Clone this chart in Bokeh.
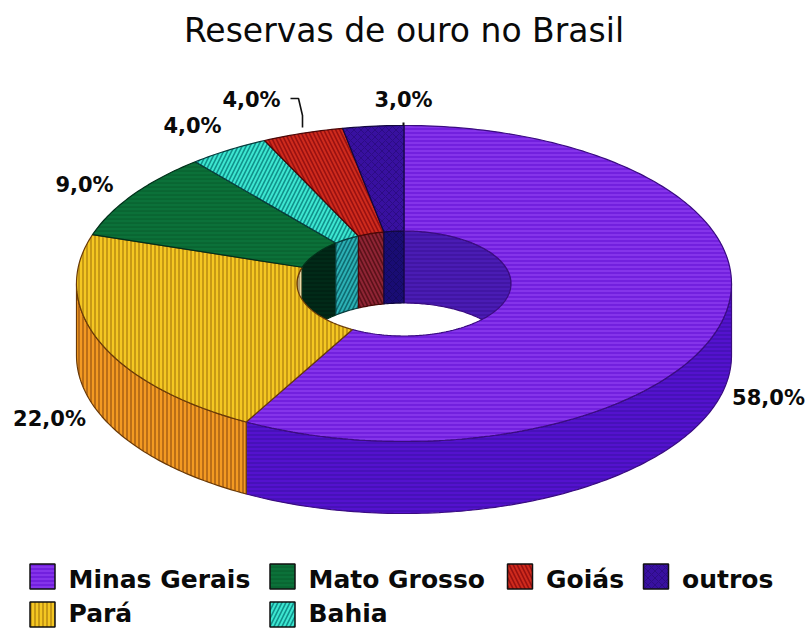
import math
from bokeh.embed import file_html
from bokeh.models import ColumnDataSource
from bokeh.plotting import figure
from bokeh.resources import INLINE
from bokeh.core.properties import value

# Gold reserves by state, percent
categories = ["Minas Gerais", "Pará", "Mato Grosso", "Bahia", "Goiás", "outros"]
shares = [58.0, 22.0, 9.0, 4.0, 4.0, 3.0]
value_labels = ["58,0%", "22,0%", "9,0%", "4,0%", "4,0%", "3,0%"]

# Colours per slice
top_colors = ["#7220DE", "#F4C722", "#0B7139", "#3CE6D0", "#CE2A1C", "#3810A0"]
top_hatch = ["#8A38EE", "#B88A10", "#075C2C", "#10908A", "#981010", "#2C0C84"]
wall_colors = ["#5412CE", "#F39A22", "#0B5A2E", "#2BB8B8", "#92242F", "#1A0E78"]
wall_hatch = ["#4410B4", "#A85E12", "#00301A", "#0E6A70", "#5E1018", "#140A60"]
inner_colors = ["#4A1CB4", "#E8D8A8", "#012A18", "#2BB0B4", "#8E2434", "#190C74"]
inner_hatch = ["#3E14A0", "#9A8860", "#001C10", "#0E6A70", "#5A1018", "#140A60"]
patterns = ["horizontal_line", "vertical_line", "horizontal_line",
            "right_diagonal_line", "left_diagonal_line", "diagonal_cross"]
hatch_scales = [4, 4, 4, 8, 8, 7]
hatch_weights = [1.6, 1.5, 1.0, 1.6, 1.6, 1.0]
outlines = ["#3A0C80", "#6A3A08", "#02301A", "#083C3C", "#4A0808", "#120840"]

# Ring geometry in page units
CX, CY = 403.5, 283.0
RX, RY = 327.5, 158.0
HX, HY = 107.0, 52.5
DEPTH = 72.0


def arc(rx, ry, a0, a1, dy=0.0):
    n = max(2, int(abs(a1 - a0)) + 2)
    xs, ys = [], []
    for i in range(n):
        a = math.radians(a0 + (a1 - a0) * i / (n - 1))
        xs.append(CX + rx * math.sin(a))
        ys.append(CY - ry * math.cos(a) + dy)
    return xs, ys


def overlap(s, e, lo, hi):
    parts = []
    for off in (0, 360):
        a, b = max(s + off, lo), min(e + off, hi)
        if b > a:
            parts.append((a, b))
    return parts


starts, ends = [], []
acc = 0.0
for v in shares:
    starts.append(acc * 3.6)
    acc += v
    ends.append(acc * 3.6)

p = figure(width=808, height=628, x_range=(0, 808), y_range=(628, 0),
           toolbar_location=None, output_backend="svg", min_border=0,
           background_fill_color="white", border_fill_color="white")
p.axis.visible = False
p.grid.visible = False
p.outline_line_color = None


def layer(xs, ys, fills, hatches, idx):
    src = ColumnDataSource(dict(xs=xs, ys=ys, fill=fills, hatch=hatches,
                                pat=[patterns[i] for i in idx],
                                scale=[hatch_scales[i] for i in idx],
                                weight=[hatch_weights[i] for i in idx],
                                line=[outlines[i] for i in idx]))
    p.patches("xs", "ys", source=src, fill_color="fill", hatch_color="hatch",
              hatch_pattern="pat", hatch_scale="scale", hatch_weight="weight",
              line_color="line", line_width=1.2)


def wall(rx, ry, lo, hi, fills, hatches):
    xs, ys, fs, hs, idx = [], [], [], [], []
    for i in range(len(shares)):
        for a, b in overlap(starts[i], ends[i], lo, hi):
            x0, y0 = arc(rx, ry, a, b)
            x1, y1 = arc(rx, ry, b, a, DEPTH)
            xs.append(x0 + x1)
            ys.append(y0 + y1)
            fs.append(fills[i])
            hs.append(hatches[i])
            idx.append(i)
    layer(xs, ys, fs, hs, idx)


# Outer wall along the front of the ring, inner wall along the back of the hole
wall(RX, RY, 90, 270, wall_colors, wall_hatch)
wall(HX, HY, 270, 450, inner_colors, inner_hatch)

# Top face of the ring
tx, ty = [], []
for i in range(len(shares)):
    x0, y0 = arc(RX, RY, starts[i], ends[i])
    x1, y1 = arc(HX, HY, ends[i], starts[i])
    tx.append(x0 + x1)
    ty.append(y0 + y1)
layer(tx, ty, top_colors, top_hatch, range(len(shares)))

# Leader lines from labels to the rim
p.line([290, 298, 302, 302], [98, 98, 115, 127], line_color="#111111", line_width=1.6)
p.line([403, 403], [122, 125], line_color="#111111", line_width=2)

# Title
p.text([403.5], [30], text=["Reservas de ouro no Brasil"], text_font=value("DejaVu Sans"),
       text_font_size="33px", text_align="center", text_baseline="middle", text_color="#0A0A0A")

# Value labels
label_x = [768, 49, 84, 192, 251, 403]
label_y = [397, 418, 184, 125, 99, 99]
p.text(label_x, label_y, text=value_labels, text_font=value("DejaVu Sans"), text_font_style="bold",
       text_font_size="21px", text_align="center", text_baseline="middle", text_color="#0A0A0A")

# Legend entries
swatch_x = [42, 42, 282, 282, 519.5, 655.5]
swatch_y = [576, 614, 576, 614, 576, 576]
text_y = [579, 613, 579, 613, 579, 579]
src = ColumnDataSource(dict(x=swatch_x, y=swatch_y, fill=top_colors, hatch=top_hatch, pat=patterns,
                            scale=hatch_scales, weight=hatch_weights, line=["#111111"] * 6))
p.rect("x", "y", width=25, height=25, source=src, fill_color="fill", hatch_color="hatch", hatch_pattern="pat",
       hatch_scale="scale", hatch_weight="weight", line_color="line", line_width=1.5)
p.text([x + 26 for x in swatch_x], text_y, text=categories, text_font=value("DejaVu Sans"),
       text_font_style="bold", text_font_size="25px", text_align="left", text_baseline="middle", text_color="#0A0A0A")

open("out.html", "w").write(file_html(p, INLINE))
